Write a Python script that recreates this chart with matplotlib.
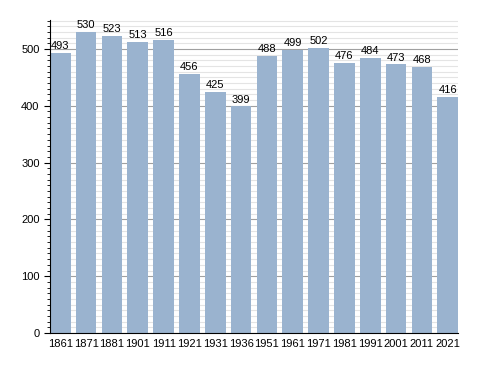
import matplotlib
matplotlib.use('Agg')
import matplotlib.pyplot as plt
from matplotlib.ticker import MultipleLocator

years = ['1861', '1871', '1881', '1901', '1911', '1921', '1931', '1936',
         '1951', '1961', '1971', '1981', '1991', '2001', '2011', '2021']
pop = [493, 530, 523, 513, 516, 456, 425, 399,
       488, 499, 502, 476, 484, 473, 468, 416]

plt.rcParams['font.family'] = 'Liberation Sans'
fig = plt.figure(figsize=(4.88, 3.73), dpi=100)
ax = fig.add_axes([50 / 488, 40 / 373, 408 / 488, 313 / 373])

x = range(len(years))
ax.bar(x, pop, width=0.8, color='#9ab3cf', zorder=2)
for i, v in enumerate(pop):
    ax.text(i, v + 3, str(v), ha='center', va='bottom', fontsize=8, zorder=3)

ax.set_xlim(-0.4, len(years) - 0.6)
ax.set_ylim(0, 551)
ax.set_xticks(list(x))
ax.set_xticklabels(years)
ax.yaxis.set_major_locator(MultipleLocator(100))
ax.yaxis.set_minor_locator(MultipleLocator(10))
ax.grid(axis='y', which='major', color='#a0a0a0', linewidth=0.8, zorder=0)
ax.grid(axis='y', which='minor', color='#e4e4e4', linewidth=0.8, zorder=0)
ax.set_axisbelow(True)

for s in ['top', 'right']:
    ax.spines[s].set_visible(False)
ax.tick_params(axis='x', length=0, labelsize=8, pad=4)
ax.tick_params(axis='y', which='major', length=4, labelsize=8)
ax.tick_params(axis='y', which='minor', length=2)

fig.savefig('out.png', dpi=100)
